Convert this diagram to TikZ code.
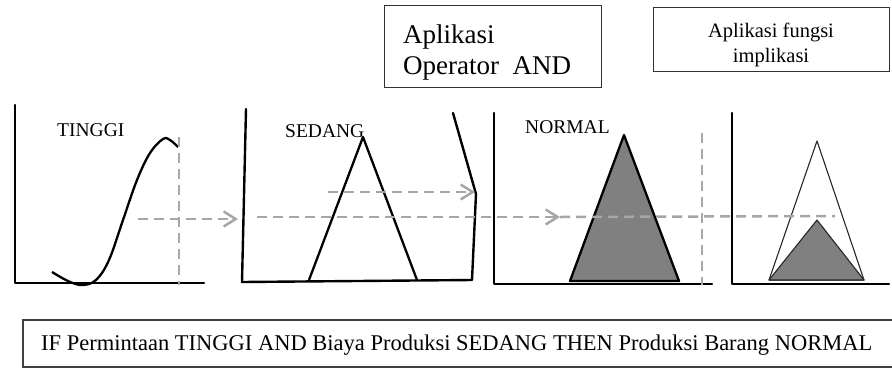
\documentclass[tikz,border=0pt]{standalone}
\usepackage{fontspec}
\setmainfont{Liberation Serif}
\usetikzlibrary{arrows.meta}
\begin{document}
\begin{tikzpicture}[x=1pt,y=-1pt,
  axis/.style={line width=2.4pt,line cap=round,line join=round},
  memb/.style={line width=2.3pt,line join=round},
  guide/.style={draw=black!35,line width=2.5pt,dash pattern=on 10pt off 6pt},
  guidearrow/.style={guide,-{Straight Barb[length=12pt,width=15pt,line width=2.5pt]}},
  framebox/.style={draw=black!80,line width=1.3pt,inner sep=0pt,anchor=north west},
  lbl/.style={inner sep=0pt,anchor=base west,font=\fontsize{19.5}{22}\selectfont}]
\useasboundingbox (0,0) rectangle (892,368);

% header boxes
\node[framebox,minimum width=217pt,minimum height=82pt] (andbox) at (384,5) {};
\node[inner sep=0pt,anchor=base west,font=\fontsize{27}{31}\selectfont] (andtxt1) at (403,43) {Aplikasi};
\node[inner sep=0pt,anchor=base west,font=\fontsize{27}{31}\selectfont] (andtxt2) at (403,74) {Operator\ \ AND};
\node[framebox,minimum width=236pt,minimum height=64pt] (impbox) at (653,7) {};
\node[inner sep=0pt,anchor=base,font=\fontsize{20.5}{25}\selectfont] (imptxt1) at (771,37) {Aplikasi fungsi};
\node[inner sep=0pt,anchor=base,font=\fontsize{20.5}{25}\selectfont] (imptxt2) at (771,62) {implikasi};

% panel 1: TINGGI
\draw[axis] (15,105) -- (15,283) -- (204,283);
\node[lbl] (tinggi) at (57,136) {TINGGI};
\draw[memb] plot[smooth,tension=0.6] coordinates {(52,272) (68,281) (82,285) (96,280) (109,260) (123,220) (137,180) (150,153) (163,139) (170,140) (178,147)};
\coordinate (v1top) at (179,137);
\coordinate (v1bot) at (179,285);
\draw[guide] (v1top) -- (v1bot);
\coordinate (h1a) at (138,219);
\coordinate (h1b) at (238,219);
\draw[guidearrow] (h1a) -- (h1b);

% panel 2: SEDANG
\draw[axis] (246,109) -- (242,282) -- (472,280) -- (476,194) -- (453,113);
\node[lbl] (sedang) at (285,137) {SEDANG};
\draw[memb] (309,280) -- (363,137) -- (417,280);
\coordinate (h2a) at (328,192);
\coordinate (h2b) at (475,192);
\draw[guidearrow] (h2a) -- (h2b);
\coordinate (h3a) at (257,217);
\coordinate (h3b) at (560,217);
\coordinate (h3c) at (835,216);
\draw[guidearrow] (h3a) -- (h3b);

% panel 3: NORMAL
\draw[axis] (494,113) -- (494,284) -- (712,284);
\node[lbl] (normal) at (525,133) {NORMAL};
\draw[memb,fill=black!50] (570,281) -- (624,135) -- (679,281) -- cycle;
\coordinate (v3top) at (702,133);
\coordinate (v3bot) at (702,285);
\draw[guide] (v3top) -- (v3bot);

% panel 4: implication result
\draw[axis] (732,113) -- (732,284) -- (889,284);
\draw[line width=1.1pt,draw=black!85,line join=round] (769,280) -- (817,141) -- (864,280) -- cycle;
\draw[line width=1.1pt,draw=black!85,fill=black!50,line join=round] (769,280) -- (817,220) -- (864,280) -- cycle;
\draw[guide] (h3b) -- (h3c);

% rule text
\node[draw=black!75,line width=1.8pt,inner sep=0pt,anchor=north west,minimum width=880pt,minimum height=47pt] (rulebox) at (22,319) {};
\node[inner sep=0pt,anchor=base west,font=\fontsize{22.5}{26}\selectfont] (ruletxt) at (41,350) {IF Permintaan TINGGI AND Biaya Produksi SEDANG THEN Produksi Barang NORMAL};
\end{tikzpicture}
\end{document}
